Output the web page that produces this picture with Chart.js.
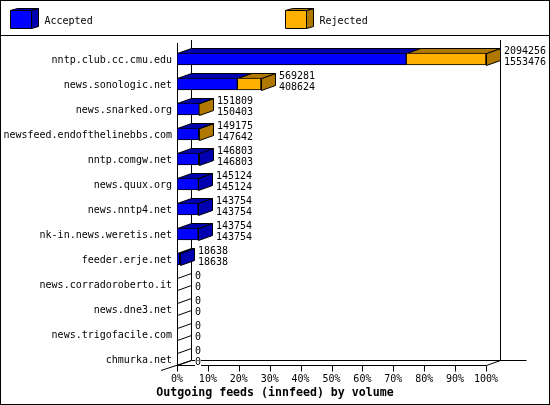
<!DOCTYPE html>
<html>
<head>
<meta charset="utf-8">
<style>html,body{margin:0;padding:0;background:#fff}canvas{display:block}</style>
<script src="https://cdn.jsdelivr.net/npm/chart.js@4"></script>
</head>
<body>
<canvas id="c" width="550" height="405"></canvas>
<script>
const categories = ["nntp.club.cc.cmu.edu","news.sonologic.net","news.snarked.org","newsfeed.endofthelinebbs.com","nntp.comgw.net","news.quux.org","news.nntp4.net","nk-in.news.weretis.net","feeder.erje.net","news.corradoroberto.it","news.dne3.net","news.trigofacile.com","chmurka.net"];
const accepted = [1553476,408624,150403,147642,146803,145124,143754,143754,18638,0,0,0,0];
const rejected = [540780,160657,1406,1533,0,0,0,0,0,0,0,0,0];
const tickLabels = ["0%","10%","20%","30%","40%","50%","60%","70%","80%","90%","100%"];
const axisTitle = "Outgoing feeds (innfeed) by volume";
const axisMax = 2094256;

const MONO = '"DejaVu Sans Mono", monospace';
const BLUE = "#0000ff", BLUE_D = "#0000b0", ORANGE = "#ffb000", ORANGE_D = "#b07800";
const DX = 14, DY = 5;

function poly(ctx, pts, fill) {
  ctx.beginPath();
  pts.forEach((p, i) => i ? ctx.lineTo(p[0], p[1]) : ctx.moveTo(p[0], p[1]));
  ctx.closePath();
  ctx.fillStyle = fill;
  ctx.fill();
  ctx.stroke();
}
function seg(ctx, x1, y1, x2, y2) {
  ctx.beginPath(); ctx.moveTo(x1, y1); ctx.lineTo(x2, y2); ctx.stroke();
}

const frame3d = {
  id: "frame3d",
  beforeDraw(chart) {
    const ctx = chart.ctx;
    ctx.save();
    ctx.fillStyle = "#fff";
    ctx.fillRect(0, 0, 550, 405);
    ctx.restore();
  },
  beforeDatasetsDraw(chart) {
    const ctx = chart.ctx, xs = chart.scales.x, ys = chart.scales.y;
    const x0 = Math.round(xs.getPixelForValue(0)) + .5;
    const x1 = Math.round(xs.getPixelForValue(axisMax)) + .5;
    ctx.save();
    ctx.strokeStyle = "#000"; ctx.lineWidth = 1;
    // walls and floor
    seg(ctx, x0, 43, x0, 371);
    seg(ctx, x0 + DX, 40, x0 + DX, 360.5);
    seg(ctx, x1 + DX, 40, x1 + DX, 360.5);
    seg(ctx, x0 + DX, 360.5, x1 + 40, 360.5);
    seg(ctx, x0, 365.5, x1, 365.5);
    seg(ctx, x0 + DX, 360.5, 161, 370.5);
    seg(ctx, x1, 365.5, x1 + DX, 360.5);
    xs.ticks.forEach(t => {
      const x = Math.round(xs.getPixelForValue(t.value)) + .5;
      seg(ctx, x, 365.5, x, 371.5);
    });
    // top and side faces of each bar
    categories.forEach((_, i) => {
      const yc = Math.round(ys.getPixelForValue(i));
      const top = yc - 5.5, bot = yc + 6.5;
      const total = accepted[i] + rejected[i];
      if (total === 0) {
        seg(ctx, x0, top, x0 + DX, top - DY);
        seg(ctx, x0, bot, x0 + DX, bot - DY);
        return;
      }
      const xa = Math.round(xs.getPixelForValue(accepted[i])) + .5;
      const xe = Math.round(xs.getPixelForValue(total)) + .5;
      const face = rejected[i] > 0 ? ORANGE_D : BLUE_D;
      poly(ctx, [[xe, top], [xe + DX, top - DY], [xe + DX, bot - DY], [xe, bot]], face);
      if (rejected[i] > 0) poly(ctx, [[xa, top], [xa + DX, top - DY], [xe + DX, top - DY], [xe, top]], ORANGE_D);
      poly(ctx, [[x0, top], [x0 + DX, top - DY], [xa + DX, top - DY], [xa, top]], BLUE_D);
    });
    ctx.restore();
  },
  afterDraw(chart) {
    const ctx = chart.ctx, xs = chart.scales.x, ys = chart.scales.y;
    ctx.save();
    ctx.strokeStyle = "#000"; ctx.lineWidth = 1;
    ctx.font = "10px " + MONO;
    ctx.textBaseline = "middle"; ctx.textAlign = "left";
    // value labels
    categories.forEach((_, i) => {
      const yc = Math.round(ys.getPixelForValue(i));
      const total = accepted[i] + rejected[i];
      const xl = Math.round(xs.getPixelForValue(total)) + DX + 4;
      [[String(total), yc - 8], [String(accepted[i]), yc + 3]].forEach(([s, y]) => {
        const w = ctx.measureText(s).width;
        ctx.fillStyle = "#fff"; ctx.fillRect(xl, y - 4, w, 9);
        ctx.fillStyle = "#000"; ctx.fillText(s, xl, y + .5);
      });
    });
    // legend
    const boxes = [[10.5, BLUE, BLUE_D, 0], [285.5, ORANGE, ORANGE_D, 1]];
    boxes.forEach(([x, f, d, idx]) => {
      poly(ctx, [[x + 21, 10.5], [x + 28, 8.5], [x + 28, 26.5], [x + 21, 28.5]], d);
      poly(ctx, [[x, 10.5], [x + 7, 8.5], [x + 28, 8.5], [x + 21, 10.5]], d);
      poly(ctx, [[x, 10.5], [x + 21, 10.5], [x + 21, 28.5], [x, 28.5]], f);
      ctx.fillStyle = "#000";
      ctx.fillText(chart.data.datasets[idx].label, x + 34, 21.5);
    });
    // frame
    seg(ctx, 0, 35.5, 550, 35.5);
    ctx.strokeRect(.5, .5, 549, 404);
    ctx.restore();
  }
};

new Chart(document.getElementById("c"), {
  type: "bar",
  data: {
    labels: categories,
    datasets: [
      { label: "Accepted", data: accepted, backgroundColor: BLUE, borderColor: "#000", borderWidth: 1, barThickness: 12, borderSkipped: false },
      { label: "Rejected", data: rejected, backgroundColor: ORANGE, borderColor: "#000", borderWidth: 1, barThickness: 12, borderSkipped: false }
    ]
  },
  options: {
    indexAxis: "y",
    responsive: false,
    devicePixelRatio: 1,
    animation: false,
    events: [],
    layout: { padding: { top: 46.5, right: 0, bottom: 0, left: 0 } },
    plugins: {
      legend: { display: false },
      tooltip: { enabled: false },
      title: { display: true, position: "bottom", text: axisTitle, color: "#000", font: { family: MONO, size: 11.6, weight: "bold", lineHeight: 1.2 }, padding: { top: 0, bottom: 5 } }
    },
    scales: {
      x: {
        type: "linear", stacked: true, min: 0, max: axisMax,
        afterBuildTicks(s) { s.ticks = tickLabels.map((_, i) => ({ value: axisMax * i / 10 })); },
        afterFit(s) { s.height = 14.58; },
        grid: { display: false, drawTicks: false }, border: { display: false },
        ticks: { autoSkip: false, maxRotation: 0, padding: 2, color: "#000", font: { family: MONO, size: 10 }, callback: (v, i) => tickLabels[i] }
      },
      y: {
        type: "category", stacked: true,
        afterFit(s) { s.width = 177; },
        grid: { display: false, drawTicks: false }, border: { display: false },
        ticks: { autoSkip: false, padding: 5, labelOffset: 1, color: "#000", font: { family: MONO, size: 10 } }
      },
      rightSpace: {
        axis: "y", type: "category", position: "right", labels: [],
        afterFit(s) { s.width = 64; },
        grid: { display: false, drawTicks: false }, border: { display: false },
        ticks: { display: false }
      }
    }
  },
  plugins: [frame3d]
});
</script>
</body>
</html>
